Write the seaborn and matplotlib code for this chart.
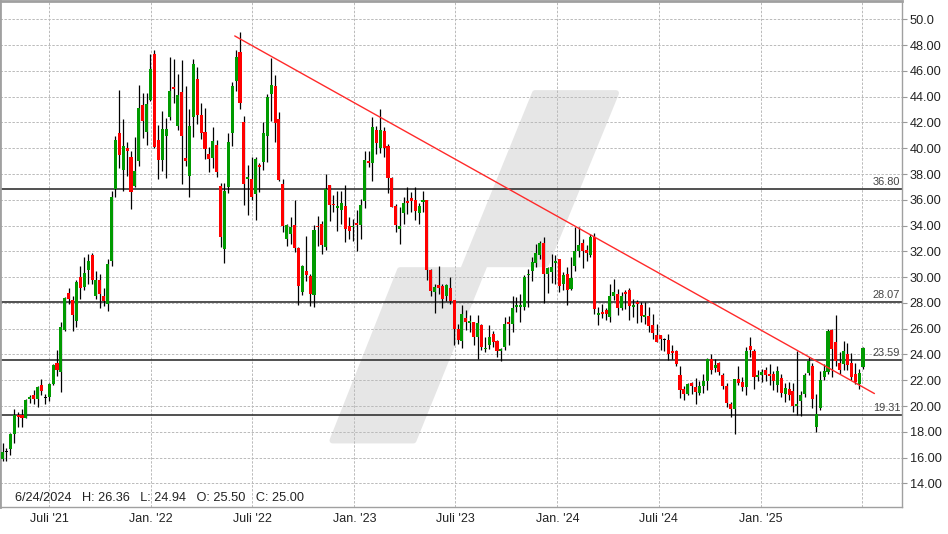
import pandas as pd
import numpy as np
import matplotlib
matplotlib.use('Agg')
import matplotlib.pyplot as plt
import matplotlib.dates as mdates
from matplotlib.patches import Polygon
import seaborn as sns

# weekly candles (week starting Monday 2021-04-05)
opens = [15.88, 16.45, 16.68, 17.82, 19.34, 19.34, 19.08, 20.56, 20.84, 20.56,
         21.61, 20.63, 20.71, 21.69, 23.34, 22.65, 25.92, 28.76, 28.25, 26.57,
         30.00, 29.23, 30.52, 31.73, 28.50, 29.79, 28.53, 27.94, 31.24, 36.84,
         41.17, 38.31, 40.01, 39.34, 37.10, 38.98, 43.37, 41.23, 43.73, 47.29,
         40.63, 39.11, 40.92, 42.39, 44.76, 41.69, 44.37, 39.27, 37.82, 42.39,
         45.38, 42.60, 41.28, 39.55, 39.21, 40.27, 37.10, 32.17, 36.97, 41.15,
         45.23, 47.47, 42.05, 37.59, 37.61, 36.43, 38.67, 38.90, 40.92, 44.19,
         44.84, 42.28, 37.25, 32.94, 33.33, 34.08, 32.27, 28.84, 30.44, 30.08,
         28.58, 34.00, 34.13, 32.30, 37.18, 35.70, 35.34, 35.24, 35.55, 34.00,
         33.87, 34.18, 34.03, 35.88, 39.03, 38.83, 41.43, 40.04, 41.35, 40.19,
         37.66, 35.55, 33.72, 34.96, 35.94, 36.14, 36.01, 34.96, 35.86, 36.01,
         30.54, 28.84, 29.36, 29.28, 28.53, 29.15, 28.20, 25.95, 25.05, 26.85,
         26.44, 26.49, 25.33, 26.26, 24.40, 24.71, 25.56, 25.02, 24.27, 24.58,
         26.52, 26.39, 27.68, 27.68, 27.68, 30.13, 30.44, 31.11, 31.68, 32.63,
         30.21, 30.39, 31.11, 31.44, 29.43, 30.21, 29.05, 30.90, 32.01, 32.63,
         32.14, 31.73, 33.15, 27.06, 27.29, 27.42, 26.90, 28.50, 28.68, 27.60,
         28.81, 28.97, 27.68, 28.06, 27.81, 26.90, 26.95, 26.26, 25.50, 25.48,
         25.12, 25.15, 24.27, 24.27, 22.39, 21.30, 20.97, 21.82, 21.48, 21.05,
         21.56, 21.92, 23.63, 22.96, 23.34, 22.39, 21.54, 20.19, 19.81, 22.13,
         21.85, 21.48, 24.63, 24.25, 22.26, 22.39, 22.77, 22.47, 22.52, 21.67,
         22.16, 20.97, 21.30, 21.15, 20.01, 20.40, 20.97, 22.57, 23.09, 18.39,
         19.88, 22.26, 22.65, 25.87, 24.97, 23.34, 23.24, 24.07, 23.34, 22.47,
         21.74, 23.03]
highs = [17.10, 16.71, 17.92, 19.78, 19.55, 19.78, 20.58, 20.84, 21.22, 21.56,
         22.13, 20.97, 21.80, 23.24, 24.32, 26.52, 28.45, 29.17, 28.50, 29.74,
         30.83, 31.55, 31.76, 31.86, 30.44, 30.21, 29.17, 31.42, 36.71, 40.97,
         44.53, 42.26, 40.45, 39.81, 40.89, 44.92, 44.30, 44.30, 47.34, 47.60,
         41.82, 42.90, 42.31, 47.08, 46.90, 45.79, 46.83, 44.84, 43.01, 46.95,
         46.31, 43.52, 43.14, 40.06, 41.61, 40.63, 37.33, 37.28, 41.20, 45.12,
         47.63, 49.02, 42.52, 38.72, 39.29, 39.29, 38.83, 42.00, 44.19, 47.03,
         45.69, 42.83, 37.61, 34.13, 34.70, 36.01, 32.32, 30.95, 33.23, 30.26,
         34.05, 34.77, 34.39, 38.00, 37.18, 36.40, 36.71, 36.71, 37.12, 34.70,
         34.52, 35.21, 36.06, 39.81, 39.81, 42.39, 41.74, 43.01, 41.61, 40.32,
         37.74, 35.68, 35.42, 36.19, 36.97, 36.58, 37.02, 35.73, 36.71, 36.01,
         30.65, 29.43, 30.83, 29.48, 29.48, 30.00, 28.20, 26.39, 27.81, 27.42,
         27.03, 26.52, 27.03, 26.39, 25.36, 26.26, 25.79, 25.10, 24.50, 26.90,
         26.95, 28.50, 28.45, 28.66, 30.13, 30.65, 31.60, 32.58, 32.84, 33.10,
         30.78, 31.81, 31.68, 31.44, 30.39, 30.78, 31.55, 33.92, 33.92, 32.97,
         32.50, 33.36, 33.41, 27.68, 27.89, 27.60, 29.43, 29.84, 29.07, 28.81,
         28.97, 29.12, 28.32, 28.25, 28.04, 28.09, 27.68, 27.11, 26.36, 25.48,
         25.28, 25.56, 24.71, 24.32, 23.09, 21.54, 21.82, 21.87, 22.18, 21.95,
         22.52, 23.76, 24.07, 23.68, 23.42, 22.59, 21.80, 20.32, 22.13, 23.09,
         22.26, 24.58, 25.36, 24.45, 22.77, 22.90, 23.03, 23.24, 22.72, 23.09,
         22.52, 21.82, 21.87, 21.82, 24.25, 21.15, 22.57, 23.81, 23.37, 20.92,
         22.70, 23.29, 26.00, 26.00, 27.09, 24.19, 25.02, 24.92, 24.14, 23.34,
         22.90, 24.58]
lows = [15.75, 15.75, 16.19, 17.15, 18.34, 18.34, 19.08, 20.25, 20.19, 19.94,
        20.84, 20.19, 20.40, 21.61, 22.31, 21.10, 25.82, 27.94, 25.82, 26.13,
        28.32, 28.97, 29.43, 29.48, 28.32, 27.60, 27.73, 27.37, 30.85, 36.25,
        38.44, 36.71, 37.82, 35.27, 37.02, 38.64, 40.76, 40.27, 43.68, 40.01,
        37.59, 38.26, 37.66, 42.21, 43.47, 41.40, 37.23, 38.59, 36.19, 40.89,
        41.85, 40.68, 39.14, 38.13, 38.47, 37.74, 32.32, 31.08, 36.50, 40.19,
        44.45, 43.08, 35.57, 34.83, 36.01, 34.41, 36.58, 38.31, 38.90, 42.13,
        40.45, 37.43, 33.51, 32.43, 32.56, 31.94, 27.81, 28.58, 29.72, 27.73,
        27.68, 32.43, 31.78, 32.07, 34.39, 35.03, 33.61, 34.13, 32.71, 32.97,
        32.84, 32.01, 32.94, 35.34, 38.52, 37.43, 39.55, 39.60, 39.29, 36.50,
        35.42, 33.48, 32.58, 34.13, 34.90, 35.03, 34.44, 34.13, 35.03, 29.74,
        28.50, 27.24, 28.66, 27.63, 28.12, 27.94, 24.71, 24.84, 24.50, 25.87,
        25.74, 24.76, 23.68, 24.32, 24.19, 24.45, 24.58, 23.81, 23.50, 24.32,
        24.71, 25.74, 27.29, 26.52, 27.42, 27.68, 29.69, 30.78, 31.42, 27.99,
        28.76, 29.54, 29.48, 28.84, 28.97, 27.86, 28.97, 30.47, 31.55, 30.72,
        31.24, 31.55, 27.16, 26.31, 26.85, 26.65, 26.52, 28.20, 27.09, 27.42,
        27.55, 26.65, 26.90, 26.47, 26.52, 26.39, 25.74, 25.23, 24.94, 24.32,
        24.27, 23.60, 23.63, 23.09, 20.63, 20.45, 20.84, 20.92, 20.19, 20.89,
        21.02, 21.28, 22.52, 22.65, 22.39, 21.36, 19.94, 19.16, 17.87, 21.61,
        21.18, 20.84, 23.81, 21.30, 21.95, 21.87, 21.95, 21.61, 21.22, 21.10,
        20.71, 20.32, 20.50, 19.55, 19.30, 19.24, 20.71, 22.39, 19.88, 18.00,
        19.68, 22.00, 22.52, 22.26, 23.09, 22.52, 22.77, 22.82, 22.00, 21.74,
        21.30, 22.90]
closes = [16.45, 16.45, 17.82, 19.34, 19.16, 19.08, 20.50, 20.71, 20.58, 21.48,
          21.15, 20.63, 21.74, 23.16, 22.77, 26.13, 28.37, 28.30, 27.09, 29.66,
          29.15, 30.34, 31.24, 29.79, 29.79, 28.71, 28.12, 31.03, 36.25, 40.63,
          39.50, 40.19, 39.76, 36.58, 38.26, 43.11, 42.08, 43.42, 46.13, 40.06,
          39.11, 41.48, 41.48, 44.45, 44.61, 44.14, 40.92, 38.98, 41.74, 46.57,
          42.60, 41.15, 39.91, 39.14, 40.58, 38.13, 33.15, 36.71, 40.50, 44.84,
          47.08, 43.47, 37.23, 37.74, 36.19, 39.19, 38.52, 41.20, 43.99, 44.92,
          41.92, 37.56, 33.97, 34.05, 33.92, 32.27, 29.28, 30.85, 30.13, 28.68,
          33.69, 33.87, 32.48, 36.84, 35.57, 35.57, 35.55, 35.73, 33.72, 33.56,
          34.00, 34.03, 35.63, 39.11, 38.88, 41.61, 40.37, 41.40, 40.01, 37.66,
          35.45, 34.05, 34.00, 35.73, 35.73, 35.94, 35.16, 35.55, 36.01, 30.54,
          28.92, 29.23, 29.15, 28.30, 29.36, 28.12, 25.97, 25.10, 27.11, 26.49,
          26.57, 25.36, 26.47, 24.58, 24.53, 25.33, 24.97, 24.27, 24.40, 26.39,
          26.39, 27.60, 27.81, 27.81, 30.00, 30.26, 31.16, 31.88, 32.66, 30.26,
          30.70, 30.78, 31.24, 29.30, 30.18, 29.02, 29.95, 31.99, 32.53, 32.01,
          31.86, 33.15, 27.55, 27.21, 27.11, 27.11, 28.50, 28.81, 27.60, 28.53,
          28.68, 27.76, 27.83, 27.94, 27.01, 27.06, 26.23, 25.67, 25.00, 25.17,
          25.12, 24.07, 24.12, 23.29, 21.28, 20.97, 21.74, 21.56, 21.10, 21.54,
          21.92, 23.68, 22.82, 23.16, 22.65, 21.59, 20.27, 19.81, 22.08, 21.80,
          21.48, 24.25, 24.32, 22.26, 22.39, 22.65, 22.39, 22.31, 21.95, 22.70,
          21.05, 21.43, 20.89, 20.01, 20.14, 20.84, 22.39, 23.47, 20.53, 19.42,
          22.00, 22.70, 25.79, 24.43, 23.50, 22.77, 24.25, 23.16, 22.26, 21.87,
          22.59, 24.50]

levels = [36.80, 28.07, 23.59, 19.31]
level_labels = ['36.80', '28.07', '23.59', '19.31']

trend_dates = ['2022-05-31', '2025-07-24']
trend_vals = [48.71, 20.97]

yticks = list(range(14, 51, 2))
ytick_labels = ['50.0' if v == 50 else f'{v:.2f}' for v in yticks]
xtick_dates = ['2021-07-01', '2022-01-01', '2022-07-01', '2023-01-01', '2023-07-01',
               '2024-01-01', '2024-07-01', '2025-01-01', '2025-07-01']
xtick_labels = ["Juli '21", "Jan. '22", "Juli '22", "Jan. '23", "Juli '23",
                "Jan. '24", "Juli '24", "Jan. '25", ""]

readout = "6/24/2024   H: 26.36   L: 24.94   O: 25.50   C: 25.00"

df = pd.DataFrame({'open': opens, 'high': highs, 'low': lows, 'close': closes})
df['week'] = pd.date_range('2021-04-05', periods=len(df), freq='7D')
df['x'] = mdates.date2num(df['week'] + pd.Timedelta(days=3.5))
df['bottom'] = df[['open', 'close']].min(axis=1)
df['body'] = (df['close'] - df['open']).abs().clip(lower=0.1)
df['color'] = np.where(df['close'] > df['open'], '#009a00',
                       np.where(df['close'] < df['open'], '#ff0000', '#000000'))

sns.set_style('white')
plt.rcParams['font.family'] = ['Liberation Sans', 'DejaVu Sans']

fig = plt.figure(figsize=(9.48, 5.34), dpi=100)
ax = fig.add_axes([0, 27 / 534, 902 / 948, 506 / 534])

# watermark logo (pixel outline -> axes fraction)
logo_px = [(332.5, 440.3), (413.5, 440.3), (484.9, 263.7), (546, 263.7),
           (616, 92.3), (535, 92.3), (463, 269.7), (400, 269.7)]
logo = Polygon([(x / 902, (507 - y) / 507) for x, y in logo_px], closed=True,
               transform=ax.transAxes, facecolor='#e6e6e6', edgecolor='#e6e6e6',
               lw=4.3, joinstyle='round', zorder=0.1)
ax.add_patch(logo)

for lv in levels:
    ax.axhline(lv, color='#333333', lw=1.2, zorder=1.5)
for lv, lab in zip(levels, level_labels):
    ax.annotate(lab, xy=(0.998, lv), xycoords=('axes fraction', 'data'),
                xytext=(0, 1.5), textcoords='offset points', ha='right', va='bottom',
                fontsize=7.9, color='#444444')

# candles
ax.vlines(df['x'], df['low'], df['high'], color='black', lw=0.9, zorder=2)
ax.bar(df['x'], df['body'], bottom=df['bottom'], width=5.5, color=df['color'],
       linewidth=0, zorder=3)

# trend line
sns.lineplot(x=mdates.date2num(pd.to_datetime(trend_dates)), y=trend_vals,
             color='#ff2a2a', lw=1.0, ax=ax, zorder=4)

ax.set_xlim(mdates.date2num(pd.Timestamp('2021-04-04')),
            mdates.date2num(pd.Timestamp('2025-09-11 14:00')))
ax.set_ylim(12.17, 51.42)

ax.set_xticks(mdates.date2num(pd.to_datetime(xtick_dates)))
ax.set_xticklabels(xtick_labels)
ax.yaxis.tick_right()
ax.set_yticks(yticks)
ax.set_yticklabels(ytick_labels)
ax.tick_params(axis='x', length=0, pad=4, labelsize=9, labelcolor='#222222')
ax.tick_params(axis='y', length=3.5, width=0.8, color='#999999', pad=2,
               labelsize=9.2, labelcolor='#222222')

ax.set_axisbelow(True)
ax.grid(True, color='#bababa', ls=(0, (2.5, 1.6)), lw=0.7)

for s in ['left', 'bottom', 'right', 'top']:
    ax.spines[s].set_color('#a0a0a0')
    ax.spines[s].set_linewidth(1.0)
ax.spines['left'].set_linewidth(2.0)
ax.spines['top'].set_linewidth(2.0)

ax.text(15 / 902, 9 / 507, readout, transform=ax.transAxes, va='center', ha='left',
        fontsize=9.2, color='#222222')

ax.set_xlabel('')
ax.set_ylabel('')
fig.savefig('out.png', dpi=100)
